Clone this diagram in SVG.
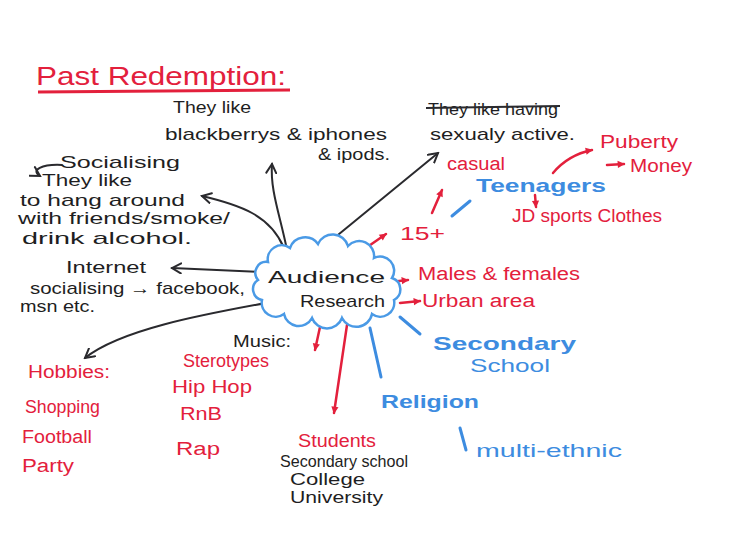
<svg xmlns="http://www.w3.org/2000/svg" width="730" height="556" viewBox="0 0 730 556">
<defs>
<style>
text{font-family:"Liberation Sans","DejaVu Sans",sans-serif}
.k{fill:#1e1e22;font-size:17px}
.r{fill:#e3203c;font-size:18px}
.b{fill:#3d8ce0;font-size:19px}
.lk{fill:none;stroke:#2a2a2e;stroke-width:2;stroke-linecap:round}
.lr{fill:none;stroke:#e3203c;stroke-width:2.5;stroke-linecap:round}
.lb{fill:none;stroke:#3d8ce0;stroke-width:3;stroke-linecap:round}
</style>
<marker id="ak" viewBox="0 0 12 12" refX="10" refY="6" markerWidth="12" markerHeight="12" markerUnits="userSpaceOnUse" orient="auto">
<path d="M1 1 L10 6 L1 11" fill="none" stroke="#2a2a2e" stroke-width="2" stroke-linecap="round"/>
</marker>
<marker id="ar" viewBox="0 0 10 10" refX="8" refY="5" markerWidth="9" markerHeight="9" markerUnits="userSpaceOnUse" orient="auto">
<path d="M1 1 L9 5 L1 9 Z" fill="#e3203c"/>
</marker>
</defs>
<rect width="730" height="556" fill="#ffffff"/>

<g id="title">
<text x="36" y="85" fill="#e3203c" font-size="26" textLength="250" lengthAdjust="spacingAndGlyphs">Past Redemption:</text>
<path d="M38 92 L290 90" stroke="#e3203c" stroke-width="3" fill="none"/>
</g>

<g id="connectors">
<path class="lk" d="M287 250 C280 215 270 190 272 164" marker-end="url(#ak)"/>
<path class="lk" d="M322 248 L438 153" marker-end="url(#ak)"/>
<path class="lk" d="M284 248 C270 215 240 205 202 196" marker-end="url(#ak)"/>
<path class="lk" d="M262 272 L172 268" marker-end="url(#ak)"/>
<path class="lk" d="M266 303 C200 315 120 330 85 358" marker-end="url(#ak)"/>
<path class="lk" d="M62 165 C42 164 30 170 40 176" marker-end="url(#ak)"/>
<path class="lr" d="M363 250 L386 234" marker-end="url(#ar)"/>
<path class="lr" d="M432 213 L442 190" marker-end="url(#ar)"/>
<path class="lr" d="M553 173 Q568 155 592 150" marker-end="url(#ar)"/>
<path class="lr" d="M607 165 L624 164" marker-end="url(#ar)"/>
<path class="lr" d="M535 195 L536 207" marker-end="url(#ar)"/>
<path class="lr" d="M390 282 L408 280" marker-end="url(#ar)"/>
<path class="lr" d="M400 303 L420 301" marker-end="url(#ar)"/>
<path class="lr" d="M320 327 L315 350" marker-end="url(#ar)"/>
<path class="lr" d="M347 325 L334 413" marker-end="url(#ar)"/>
<path class="lb" d="M400 317 L420 334"/>
<path class="lb" d="M370 328 L381 377"/>
<path class="lb" d="M452 216 L470 201"/>
<path class="lb" d="M460 428 L466 450"/>
</g>

<g id="audience-research">
<path d="M268 262 a14 14 0 0 1 22 -14 a16 16 0 0 1 28 -4 a16 16 0 0 1 30 2 a15 15 0 0 1 26 12 a14 14 0 0 1 18 20 a12 12 0 0 1 2 22 a14 14 0 0 1 -22 14 a16 16 0 0 1 -30 4 a16 16 0 0 1 -30 0 a15 15 0 0 1 -28 -4 a14 14 0 0 1 -22 -14 a11 11 0 0 1 -4 -20 a11 11 0 0 1 10 -18 Z" fill="#ffffff" stroke="#4a9ae6" stroke-width="2.5"/>
<text class="k" x="268" y="283" font-size="24" textLength="117" lengthAdjust="spacingAndGlyphs">Audience</text>
<text class="k" x="300" y="307" font-size="20" textLength="85" lengthAdjust="spacingAndGlyphs">Research</text>
</g>

<g id="gadgets">
<text class="k" x="173" y="113" textLength="78" lengthAdjust="spacingAndGlyphs">They like</text>
<text class="k" x="165" y="140" textLength="222" lengthAdjust="spacingAndGlyphs">blackberrys &amp; iphones</text>
<text class="k" x="318" y="160" textLength="72" lengthAdjust="spacingAndGlyphs">&amp; ipods.</text>
</g>

<g id="sexual">
<text class="k" x="428" y="115" textLength="130" lengthAdjust="spacingAndGlyphs">They like having</text>
<path d="M426 108 L560 106" stroke="#2a2a2e" stroke-width="2" fill="none"/>
<text class="k" x="430" y="140" textLength="145" lengthAdjust="spacingAndGlyphs">sexualy active.</text>
</g>

<g id="casual"><text class="r" x="447" y="170" font-size="17" textLength="58" lengthAdjust="spacingAndGlyphs">casual</text></g>
<g id="puberty"><text class="r" x="600" y="148" font-size="19" textLength="78" lengthAdjust="spacingAndGlyphs">Puberty</text></g>
<g id="money"><text class="r" x="630" y="172" font-size="20" textLength="62" lengthAdjust="spacingAndGlyphs">Money</text></g>
<g id="teenagers"><text class="b" x="476" y="192" font-size="20" font-weight="bold" textLength="130" lengthAdjust="spacingAndGlyphs">Teenagers</text></g>
<g id="jd"><text class="r" x="512" y="222" font-size="19" textLength="150" lengthAdjust="spacingAndGlyphs">JD sports Clothes</text></g>
<g id="age"><text class="r" x="400" y="240" font-size="22" textLength="45" lengthAdjust="spacingAndGlyphs">15+</text></g>

<g id="socialising">
<text class="k" x="60" y="168" font-size="18" textLength="120" lengthAdjust="spacingAndGlyphs">Socialising</text>
<text class="k" x="42" y="186" textLength="90" lengthAdjust="spacingAndGlyphs">They like</text>
<text class="k" x="20" y="206" textLength="165" lengthAdjust="spacingAndGlyphs">to hang around</text>
<text class="k" x="18" y="224" textLength="212" lengthAdjust="spacingAndGlyphs">with friends/smoke/</text>
<text class="k" x="22" y="244" textLength="170" lengthAdjust="spacingAndGlyphs">drink alcohol.</text>
</g>

<g id="internet">
<text class="k" x="66" y="273" textLength="80" lengthAdjust="spacingAndGlyphs">Internet</text>
<text class="k" x="30" y="294" font-size="16" textLength="215" lengthAdjust="spacingAndGlyphs">socialising → facebook,</text>
<text class="k" x="20" y="312" font-size="16" textLength="75" lengthAdjust="spacingAndGlyphs">msn etc.</text>
</g>

<g id="males"><text class="r" x="418" y="280" font-size="21" textLength="162" lengthAdjust="spacingAndGlyphs">Males &amp; females</text></g>
<g id="urban"><text class="r" x="422" y="307" font-size="19" textLength="113" lengthAdjust="spacingAndGlyphs">Urban area</text></g>

<g id="secondary">
<text class="b" x="433" y="350" font-size="24" font-weight="bold" textLength="143" lengthAdjust="spacingAndGlyphs">Secondary</text>
<text class="b" x="470" y="372" font-size="18" textLength="80" lengthAdjust="spacingAndGlyphs">School</text>
</g>

<g id="music">
<text class="k" x="233" y="347" textLength="58" lengthAdjust="spacingAndGlyphs">Music:</text>
<text class="r" x="183" y="367" font-size="17" textLength="86" lengthAdjust="spacingAndGlyphs">Sterotypes</text>
<text class="r" x="172" y="393" font-size="19" textLength="80" lengthAdjust="spacingAndGlyphs">Hip Hop</text>
<text class="r" x="180" y="420" textLength="42" lengthAdjust="spacingAndGlyphs">RnB</text>
<text class="r" x="176" y="455" font-size="19" textLength="44" lengthAdjust="spacingAndGlyphs">Rap</text>
</g>

<g id="hobbies">
<text class="r" x="28" y="378" font-size="17" textLength="82" lengthAdjust="spacingAndGlyphs">Hobbies:</text>
<text class="r" x="25" y="413" textLength="75" lengthAdjust="spacingAndGlyphs">Shopping</text>
<text class="r" x="22" y="443" textLength="70" lengthAdjust="spacingAndGlyphs">Football</text>
<text class="r" x="22" y="472" textLength="52" lengthAdjust="spacingAndGlyphs">Party</text>
</g>

<g id="religion">
<text class="b" x="381" y="408" font-weight="bold" textLength="98" lengthAdjust="spacingAndGlyphs">Religion</text>
</g>
<g id="ethnic">
<text class="b" x="476" y="457" textLength="146" lengthAdjust="spacingAndGlyphs">multi-ethnic</text>
</g>

<g id="students">
<text class="r" x="298" y="447" font-size="18" textLength="78" lengthAdjust="spacingAndGlyphs">Students</text>
<text class="k" x="280" y="467" font-size="13" textLength="128" lengthAdjust="spacingAndGlyphs">Secondary school</text>
<text class="k" x="290" y="485" font-size="15" textLength="75" lengthAdjust="spacingAndGlyphs">College</text>
<text class="k" x="290" y="503" font-size="15" textLength="93" lengthAdjust="spacingAndGlyphs">University</text>
</g>
</svg>
